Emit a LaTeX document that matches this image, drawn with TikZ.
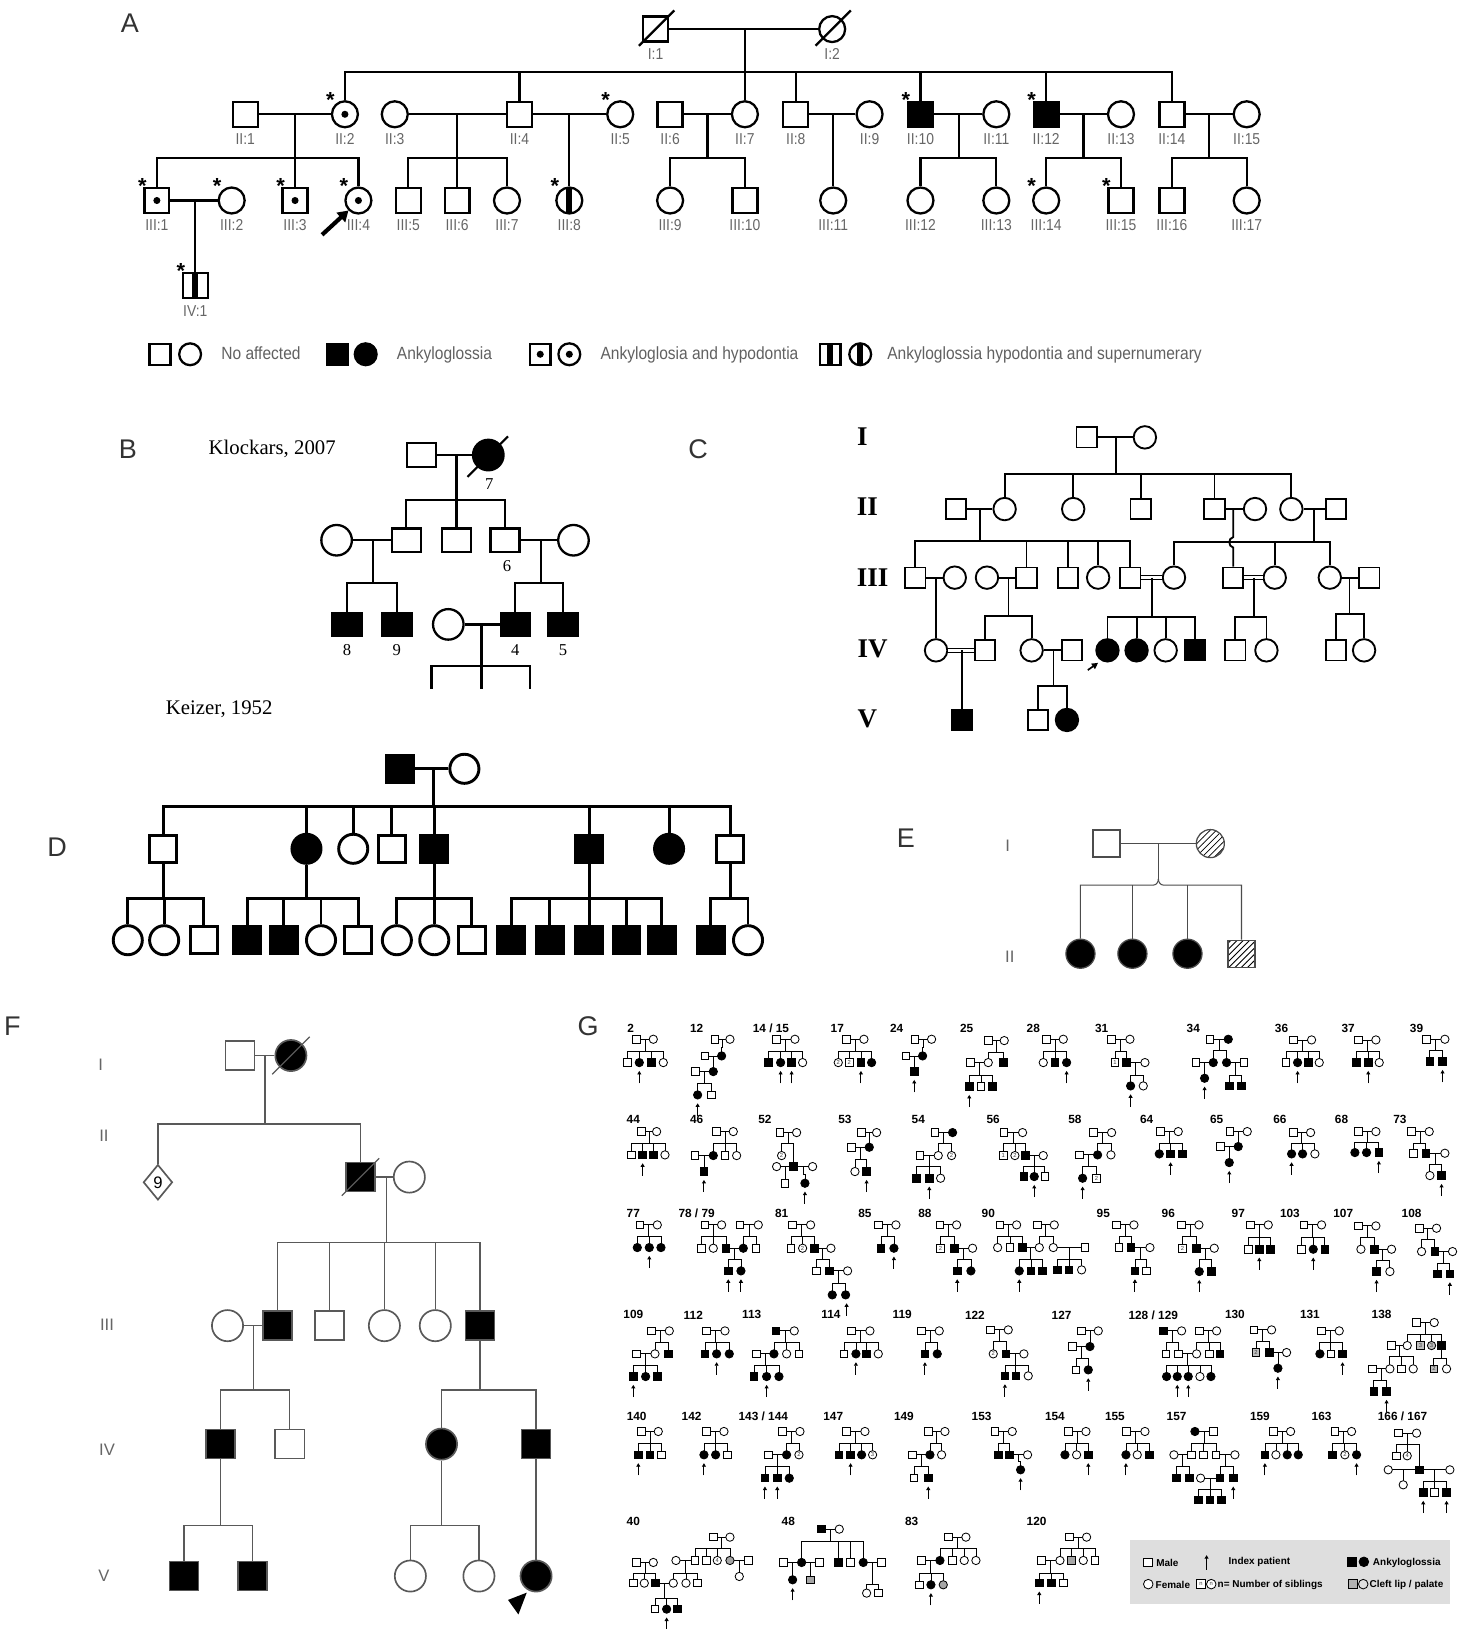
\documentclass[tikz,border=0pt]{standalone}
\usepackage{fontspec}
\setmainfont{Liberation Serif}
\setsansfont{Liberation Sans}
\newfontfamily\nsans[FakeStretch=0.88]{Liberation Sans}
\usetikzlibrary{calc,patterns,arrows.meta,shapes.geometric}
\newcommand\fsz[1]{\fontsize{#1}{#1}\selectfont}
\newcommand\kids[3]{%
  \draw (#1) -- (#1 |- 0,#2);
  \foreach \k in {#3}{\draw (#1 |- 0,#2) -- (\k |- 0,#2) -- (\k);}%
}
\newcommand\alab[2]{\node[alab] at ($(#1)+(0,24)$) {#2};}
\newcommand\astar[1]{\node[astar] at ($(#1)+(-14,-14)$) {*};}
% panel G helpers
\newcommand\gS[2]{\node[gsq] at (#1,#2) {};}
\newcommand\gSF[2]{\node[gsq,fill=black] at (#1,#2) {};}
\newcommand\gC[2]{\node[gci] at (#1,#2) {};}
\newcommand\gCF[2]{\node[gci,fill=black] at (#1,#2) {};}
\newcommand\gSG[2]{\node[gsq,fill=black!35] at (#1,#2) {};}
\newcommand\gCG[2]{\node[gci,fill=black!35] at (#1,#2) {};}
\newcommand\gSN[3]{\node[gsq,gnum] at (#1,#2) {#3};}
\newcommand\gCN[3]{\node[gci,gnum] at (#1,#2) {#3};}
\newcommand\gA[2]{\draw[garr] (#1,#2+62) -- (#1,#2+25);}
\newcommand\gT[3]{\node[gtit] at (#1,#2) {#3};}
\newcommand\gfam[5]{%
  \draw[gl] (#1,#3) -- (#2,#3);
  \pgfmathsetmacro\gmx{(#1+#2)/2}%
  \draw[gl] (\gmx,#3) -- (\gmx,#4);
  \foreach \cx/\cy in {#5}{\draw[gl] (\gmx,#4) -- (\cx,#4) -- (\cx,\cy);}%
}
\tikzset{
  asq/.style={draw,rectangle,minimum size=12pt,inner sep=0pt,fill=white,line width=1.1pt},
  aci/.style={draw,circle,minimum size=12.5pt,inner sep=0pt,fill=white,line width=1.1pt},
  aff/.style={fill=black},
  adot/.style={path picture={\fill[black] (path picture bounding box.center) circle (1.7pt);}},
  abar/.style={path picture={\fill[black] ($(path picture bounding box.center)+(-1.5pt,-8pt)$) rectangle ($(path picture bounding box.center)+(1.5pt,8pt)$);}},
  alab/.style={font=\nsans\fsz{7.6},text=black!60},
  astar/.style={font=\sffamily\bfseries\fsz{10.5}},
  aleg/.style={font=\nsans\fsz{8.5},text=black!62,anchor=base west},
  plet/.style={font=\sffamily\fsz{13},text=black!80},
  bsq/.style={draw,rectangle,minimum width=14pt,minimum height=11.3pt,inner sep=0pt,fill=white,line width=1.1pt},
  bci/.style={draw,circle,minimum size=14.7pt,inner sep=0pt,fill=white,line width=1.1pt},
  bnum/.style={font=\fsz{8}},
  csq/.style={draw,rectangle,minimum size=9.8pt,inner sep=0pt,fill=white,line width=0.9pt},
  cci/.style={draw,circle,minimum size=10.8pt,inner sep=0pt,fill=white,line width=0.9pt},
  crom/.style={font=\bfseries\fsz{13}},
  dsq/.style={draw,rectangle,minimum size=13pt,inner sep=0pt,fill=white,line width=1.4pt},
  dci/.style={draw,circle,minimum size=14pt,inner sep=0pt,fill=white,line width=1.4pt},
  esq/.style={draw,rectangle,minimum size=13pt,inner sep=0pt,fill=white,line width=0.6pt},
  eci/.style={draw,circle,minimum size=13.5pt,inner sep=0pt,fill=white,line width=0.6pt},
  ehat/.style={pattern=north east lines},
  grom/.style={font=\sffamily\fsz{8},text=black!60},
  fsq/.style={draw,rectangle,minimum size=14pt,inner sep=0pt,fill=white,line width=0.8pt},
  fci/.style={draw,circle,minimum size=15pt,inner sep=0pt,fill=white,line width=0.8pt},
  fl/.style={line width=0.6pt,draw=black!65},
  gsq/.style={draw,rectangle,minimum size=3.6pt,inner sep=0pt,fill=white,line width=0.4pt},
  gci/.style={draw,circle,minimum size=4pt,inner sep=0pt,fill=white,line width=0.4pt},
  gl/.style={line width=0.4pt},
  garr/.style={line width=0.5pt,-{Triangle[length=1.7pt,width=1.9pt]}},
  gnum/.style={font=\sffamily\fsz{2.8},text=black!75},
  gtit/.style={font=\sffamily\bfseries\fsz{5.7}},
  gleg/.style={font=\sffamily\bfseries\fsz{4.8},anchor=west,inner sep=0pt},
}
\begin{document}
\begin{tikzpicture}[x=0.5pt,y=-0.5pt]
\useasboundingbox (0,0) rectangle (1412,1568);
\fill[white] (0,0) rectangle (1412,1568);

% ================= PANEL A =================
\node[plet] (labA) at (125,22) {A};
\begin{scope}[line width=1.1pt]
\node[asq] (I1) at (631,28) {};
\node[aci] (I2) at (801,28) {};
\node[asq] (II1) at (236,110) {};
\node[aci,adot] (II2) at (332,110) {};
\node[aci] (II3) at (380,110) {};
\node[asq] (II4) at (500,110) {};
\node[aci] (II5) at (597,110) {};
\node[asq] (II6) at (645,110) {};
\node[aci] (II7) at (717,110) {};
\node[asq] (II8) at (766,110) {};
\node[aci] (II9) at (837,110) {};
\node[asq,aff] (II10) at (886,110) {};
\node[aci] (II11) at (959,110) {};
\node[asq,aff] (II12) at (1007,110) {};
\node[aci] (II13) at (1079,110) {};
\node[asq] (II14) at (1128,110) {};
\node[aci] (II15) at (1200,110) {};
\node[asq,adot] (III1) at (151,193) {};
\node[aci] (III2) at (223,193) {};
\node[asq,adot] (III3) at (284,193) {};
\node[aci,adot] (III4) at (345,193) {};
\node[asq] (III5) at (393,193) {};
\node[asq] (III6) at (440,193) {};
\node[aci] (III7) at (488,193) {};
\node[aci,abar] (III8) at (548,193) {};
\node[aci] (III9) at (645,193) {};
\node[asq] (III10) at (717,193) {};
\node[aci] (III11) at (802,193) {};
\node[aci] (III12) at (886,193) {};
\node[aci] (III13) at (959,193) {};
\node[aci] (III14) at (1007,193) {};
\node[asq] (III15) at (1079,193) {};
\node[asq] (III16) at (1128,193) {};
\node[aci] (III17) at (1200,193) {};
\node[asq,abar] (IV1) at (188,275) {};
% deceased slashes
\draw ($(I1)+(-16,16)$) -- ($(I1)+(18,-18)$);
\draw ($(I2)+(-16,16)$) -- ($(I2)+(18,-18)$);
% marriages
\draw (I1) -- (I2);
\draw (II1) -- (II2); \draw (II3) -- (II4); \draw (II4) -- (II5);
\draw (II6) -- (II7); \draw (II8) -- (II9); \draw (II10) -- (II11);
\draw (II12) -- (II13); \draw (II14) -- (II15); \draw (III1) -- (III2);
\coordinate (jI) at (717,28);
\coordinate (jA1) at (284,110);
\coordinate (jA2) at (440,110);
\coordinate (jA3) at (548,110);
\coordinate (jA4) at (681,110);
\coordinate (jA5) at (802,110);
\coordinate (jA6) at (923,110);
\coordinate (jA7) at (1043,110);
\coordinate (jA8) at (1164,110);
\coordinate (jA9) at (188,193);
\kids{jI}{69}{II2,II4,II7,II8,II10,II12,II14}
\kids{jA1}{152}{III1,III3,III4}
\kids{jA2}{152}{III5,III6,III7}
\kids{jA3}{152}{III8}
\kids{jA4}{152}{III9,III10}
\kids{jA5}{152}{III11}
\kids{jA6}{152}{III12,III13}
\kids{jA7}{152}{III14,III15}
\kids{jA8}{152}{III16,III17}
\kids{jA9}{240}{IV1}
\end{scope}
\alab{I1}{I:1}\alab{I2}{I:2}
\alab{II1}{II:1}\alab{II2}{II:2}\alab{II3}{II:3}\alab{II4}{II:4}\alab{II5}{II:5}
\alab{II6}{II:6}\alab{II7}{II:7}\alab{II8}{II:8}\alab{II9}{II:9}\alab{II10}{II:10}
\alab{II11}{II:11}\alab{II12}{II:12}\alab{II13}{II:13}\alab{II14}{II:14}\alab{II15}{II:15}
\alab{III1}{III:1}\alab{III2}{III:2}\alab{III3}{III:3}\alab{III4}{III:4}\alab{III5}{III:5}
\alab{III6}{III:6}\alab{III7}{III:7}\alab{III8}{III:8}\alab{III9}{III:9}\alab{III10}{III:10}
\alab{III11}{III:11}\alab{III12}{III:12}\alab{III13}{III:13}\alab{III14}{III:14}
\alab{III15}{III:15}\alab{III16}{III:16}\alab{III17}{III:17}\alab{IV1}{IV:1}
\astar{II2}\astar{II5}\astar{II10}\astar{II12}\astar{III1}\astar{III2}\astar{III3}
\astar{III4}\astar{III8}\astar{III14}\astar{III15}\astar{IV1}
\coordinate (arA1) at (310,226);
\draw[line width=2pt,-{Triangle[length=5pt,width=6pt]}] (arA1) -- (III4.south west);
% legend A
\node[asq,minimum size=10pt] (lg1) at (154,341) {};
\node[aci,minimum size=10.5pt] (lg2) at (183,341) {};
\node[aleg] (lt1) at (206,346) {No affected};
\node[asq,aff,minimum size=10pt] (lg3) at (325,341) {};
\node[aci,aff,minimum size=10.5pt] (lg4) at (352,341) {};
\node[aleg] (lt2) at (375,346) {Ankyloglossia};
\node[asq,adot,minimum size=10pt] (lg5) at (520,341) {};
\node[aci,adot,minimum size=10.5pt] (lg6) at (548,341) {};
\node[aleg] (lt3) at (571,346) {Ankyloglosia and hypodontia};
\node[asq,abar,minimum size=10pt] (lg7) at (799,341) {};
\node[aci,abar,minimum size=10.5pt] (lg8) at (828,341) {};
\node[aleg] (lt4) at (847,346) {Ankyloglossia hypodontia and supernumerary};

% ================= PANEL B =================
\node[plet] (labB) at (123,432) {B};
\node[font=\fsz{10}] (tB) at (262,432) {Klockars, 2007};
\begin{scope}[line width=1.1pt]
\node[bsq] (BI1) at (406,438) {};
\node[bci,aff] (BI2) at (470,438) {};
\node[bci] (BII1) at (324,520) {};
\node[bsq] (BII2) at (391,520) {};
\node[bsq] (BII3) at (439.5,520) {};
\node[bsq] (BII4) at (486,520) {};
\node[bci] (BII5) at (552,520) {};
\node[bsq,aff] (BIII1) at (334,601) {};
\node[bsq,aff] (BIII2) at (382,601) {};
\node[bci] (BIII5) at (431.5,601) {};
\node[bsq,aff] (BIII3) at (496,601) {};
\node[bsq,aff] (BIII4) at (542,601) {};
\draw (450,459) -- (489,420);
\draw (BI1) -- (BI2); \draw (BII1) -- (BII2); \draw (BII4) -- (BII5); \draw (BIII5) -- (BIII3);
\coordinate (bj1) at (439.5,438);
\coordinate (bj2) at (358.7,520);
\coordinate (bj3) at (520.4,520);
\coordinate (bj4) at (463.6,601);
\kids{bj1}{481}{BII2,BII3,BII4}
\kids{bj2}{561}{BIII1,BIII2}
\kids{bj3}{561}{BIII3,BIII4}
\coordinate (bk1) at (415.4,663);
\coordinate (bk2) at (463.6,663);
\coordinate (bk3) at (510,663);
\draw (bj4) -- (bk2);
\draw (bk1) -- (bk1 |- 0,641) -- (bk3 |- 0,641) -- (bk3);
\end{scope}
\node[bnum] (n7) at (471,466) {7};
\node[bnum] (n6) at (488,545) {6};
\node[bnum] (n8) at (334,626) {8};
\node[bnum] (n9) at (382,626) {9};
\node[bnum] (n4) at (496,626) {4};
\node[bnum] (n5) at (542,626) {5};
\node[font=\fsz{10}] (tK) at (211,683) {Keizer, 1952};

% ================= PANEL C =================
\node[plet] (labC) at (672,432) {C};
\node[crom] (rI) at (830,420) {I};
\node[crom] (rII) at (835,488) {II};
\node[crom] (rIII) at (840,556) {III};
\node[crom] (rIV) at (840,625) {IV};
\node[crom] (rV) at (835,692) {V};
\begin{scope}[line width=0.9pt]
\node[csq] (CI1) at (1046,421) {};
\node[cci] (CI2) at (1102,421) {};
\node[csq] (CII1) at (920,490) {};
\node[cci] (CII2) at (967,490) {};
\node[cci] (CII3) at (1033,490) {};
\node[csq] (CII4) at (1098,490) {};
\node[csq] (CII5) at (1169,490) {};
\node[cci] (CII6) at (1208,490) {};
\node[cci] (CII7) at (1243,490) {};
\node[csq] (CII8) at (1286,490) {};
\node[csq] (CIII1) at (881,556) {};
\node[cci] (CIII2) at (919,556) {};
\node[cci] (CIII3) at (950,556) {};
\node[csq] (CIII4) at (988,556) {};
\node[csq] (CIII5) at (1028,556) {};
\node[cci] (CIII6) at (1057,556) {};
\node[csq] (CIII7) at (1088,556) {};
\node[cci] (CIII8) at (1130,556) {};
\node[csq] (CIII9) at (1187,556) {};
\node[cci] (CIII10) at (1227,556) {};
\node[cci] (CIII11) at (1280,556) {};
\node[csq] (CIII12) at (1318,556) {};
\node[cci] (CIV1) at (901,626) {};
\node[csq] (CIV2) at (948,626) {};
\node[cci] (CIV3) at (993,626) {};
\node[csq] (CIV4) at (1032,626) {};
\node[cci,aff] (CIV5) at (1066,626) {};
\node[cci,aff] (CIV6) at (1094,626) {};
\node[cci] (CIV7) at (1122,626) {};
\node[csq,aff] (CIV8) at (1150,626) {};
\node[csq] (CIV9) at (1189,626) {};
\node[cci] (CIV10) at (1219,626) {};
\node[csq] (CIV11) at (1286,626) {};
\node[cci] (CIV12) at (1313,626) {};
\node[csq,aff] (CV1) at (926,693) {};
\node[csq] (CV2) at (999,693) {};
\node[cci,aff] (CV3) at (1027,693) {};
\draw (CI1) -- (CI2); \draw (CII1) -- (CII2); \draw (CII5) -- (CII6); \draw (CII7) -- (CII8);
\draw (CIII1) -- (CIII2); \draw (CIII3) -- (CIII4); \draw (CIII11) -- (CIII12); \draw (CIV3) -- (CIV4);
\draw[double,double distance=1.4pt,line width=0.55pt] (CIII7) -- (CIII8);
\draw[double,double distance=1.4pt,line width=0.55pt] (CIII9) -- (CIII10);
\draw[double,double distance=1.4pt,line width=0.55pt] (CIV1) -- (CIV2);
\coordinate (cj1) at (1074,421);
\coordinate (cj2) at (943,490);
\coordinate (cj3) at (1187,490);
\coordinate (cj4) at (1265,490);
\coordinate (cj5) at (901,556);
\coordinate (cj6) at (970.7,556);
\coordinate (cj7) at (1108.6,556);
\coordinate (cj8) at (1207,556);
\coordinate (cj9) at (1299,556);
\coordinate (cj10) at (926,626);
\coordinate (cj11) at (1014,626);
\kids{cj1}{456}{CII2,CII3,CII4,CII5,CII7}
\kids{cj2}{521}{CIII1,CIII4,CIII5,CIII6,CIII7}
\kids{cj4}{522}{CIII8,CIII10,CIII11}
\draw (cj3) -- (1187,517) .. controls (1182,518) and (1182,526) .. (1187,527) -- (CIII9);
\kids{cj5}{590}{CIV1}
\kids{cj6}{593}{CIV2,CIV3}
\kids{cj7}{594}{CIV5,CIV6,CIV7,CIV8}
\kids{cj8}{594}{CIV9,CIV10}
\kids{cj9}{591}{CIV11,CIV12}
\kids{cj10}{660}{CV1}
\kids{cj11}{660}{CV2,CV3}
\end{scope}
\coordinate (carr) at (1047,645);
\draw[line width=0.8pt,-{Triangle[length=3pt,width=3pt]}] (carr) -- (1057,638);

% ================= PANEL D =================
\node[plet] (labD) at (55,815) {D};
\begin{scope}[line width=1.4pt]
\node[dsq,aff] (DI1) at (385,740) {};
\node[dci] (DI2) at (447,740) {};
\node[dsq] (DII1) at (157,817) {};
\node[dci,aff] (DII2) at (295,817) {};
\node[dci] (DII3) at (340,817) {};
\node[dsq] (DII4) at (377,817) {};
\node[dsq,aff] (DII5) at (418,817) {};
\node[dsq,aff] (DII6) at (567,817) {};
\node[dci,aff] (DII7) at (644,817) {};
\node[dsq] (DII8) at (703,817) {};
\node[dci] (DIII1) at (123,905) {};
\node[dci] (DIII2) at (158,905) {};
\node[dsq] (DIII3) at (196,905) {};
\node[dsq,aff] (DIII4) at (238,905) {};
\node[dsq,aff] (DIII5) at (273,905) {};
\node[dci] (DIII6) at (309,905) {};
\node[dsq] (DIII7) at (345,905) {};
\node[dci] (DIII8) at (382,905) {};
\node[dci] (DIII9) at (418,905) {};
\node[dsq] (DIII10) at (454,905) {};
\node[dsq,aff] (DIII11) at (492,905) {};
\node[dsq,aff] (DIII12) at (529,905) {};
\node[dsq,aff] (DIII13) at (567,905) {};
\node[dsq,aff] (DIII14) at (603,905) {};
\node[dsq,aff] (DIII15) at (637,905) {};
\node[dsq,aff] (DIII16) at (684,905) {};
\node[dci] (DIII17) at (720,905) {};
\draw (DI1) -- (DI2);
\coordinate (dj1) at (417,740);
\kids{dj1}{776}{DII1,DII2,DII3,DII4,DII5,DII6,DII7,DII8}
\kids{DII1}{865}{DIII1,DIII2,DIII3}
\kids{DII2}{865}{DIII4,DIII5,DIII6,DIII7}
\kids{DII5}{865}{DIII8,DIII9,DIII10}
\kids{DII6}{865}{DIII11,DIII12,DIII13,DIII14,DIII15}
\kids{DII8}{865}{DIII16,DIII17}
\end{scope}

% ================= PANEL E =================
\node[plet] (labE) at (872,807) {E};
\node[grom] (eI) at (970,814) {I};
\node[grom] (eII) at (972,921) {II};
\begin{scope}[line width=0.5pt,draw=black!70]
\node[esq] (EI1) at (1065,812) {};
\node[eci,ehat] (EI2) at (1165,812) {};
\node[eci,aff,minimum size=14pt] (EII1) at (1040,918) {};
\node[eci,aff,minimum size=14pt] (EII2) at (1090,918) {};
\node[eci,aff,minimum size=14pt] (EII3) at (1143,918) {};
\node[esq,ehat] (EII4) at (1195,918) {};
\draw (EI1) -- (EI2);
\coordinate (ej1) at (1115,812);
\coordinate (ej2) at (1115,846);
\draw (ej1) -- (ej2);
\draw (ej2) to[out=-90,in=0] (1110,852) -- (EII1 |- 0,852) -- (EII1);
\draw (ej2) to[out=-90,in=180] (1120,852) -- (EII4 |- 0,852) -- (EII4);
\draw (EII2 |- 0,852) -- (EII2);
\draw (EII3 |- 0,852) -- (EII3);
\end{scope}

% ================= PANEL F =================
\node[plet] (labF) at (12,988) {F};
\node[grom] (fI) at (97,1025) {I};
\node[grom] (fII) at (100,1093) {II};
\node[grom] (fIII) at (103,1275) {III};
\node[grom] (fIV) at (103,1395) {IV};
\node[grom] (fV) at (100,1517) {V};
\begin{scope}[fl]
\node[fsq] (FI1) at (231,1016) {};
\node[fci,aff] (FI2) at (280,1016) {};
\node[draw,diamond,minimum width=14pt,minimum height=17pt,inner sep=0pt,line width=0.8pt,font=\sffamily\fsz{8}] (FII1) at (152,1138) {9};
\node[fsq,aff] (FII2) at (347,1133) {};
\node[fci] (FII3) at (394,1133) {};
\node[fci] (FIII1) at (219,1276) {};
\node[fsq,aff] (FIII2) at (267,1276) {};
\node[fsq] (FIII3) at (317,1276) {};
\node[fci] (FIII4) at (370,1276) {};
\node[fci] (FIII5) at (419,1276) {};
\node[fsq,aff] (FIII6) at (462,1276) {};
\node[fsq,aff] (FIV1) at (212,1390) {};
\node[fsq] (FIV2) at (279,1390) {};
\node[fci,aff] (FIV3) at (425,1390) {};
\node[fsq,aff] (FIV4) at (516,1390) {};
\node[fsq,aff] (FV1) at (177,1517) {};
\node[fsq,aff] (FV2) at (243,1517) {};
\node[fci] (FV3) at (395,1517) {};
\node[fci] (FV4) at (461,1517) {};
\node[fci,aff] (FV5) at (516,1517) {};
\draw (262,1034) -- (298,998);
\draw (329,1151) -- (365,1115);
\draw (FI1) -- (FI2); \draw (FII2) -- (FII3); \draw (FIII1) -- (FIII2);
\coordinate (fj1) at (255,1016);
\coordinate (fj2) at (372,1133);
\coordinate (fj3) at (244,1276);
\kids{fj1}{1082}{FII1,FII2}
\kids{fj2}{1196}{FIII2,FIII3,FIII4,FIII5,FIII6}
\kids{fj3}{1338}{FIV1,FIV2}
\kids{FIII6}{1338}{FIV3,FIV4}
\kids{FIV1}{1468}{FV1,FV2}
\kids{FIV3}{1468}{FV3,FV4}
\draw (FIV4) -- (FV5);
\end{scope}
\fill (507,1533) -- (489,1540) -- (499,1554) -- cycle;

% ================= PANEL G =================
\node[plet] (labG) at (566,988) {G};
% ---- block 1 (zoom4 coordinates)
\begin{scope}[shift={(577.5,972.1)},x=0.1604pt,y=-0.1604pt]
% 2
\gT{92}{55}{2}
\gfam{110}{160}{88}{123}{82/158,118/158,155/158,190/158}
\gS{110}{88}\gC{160}{88}\gS{82}{158}\gCF{118}{158}\gSF{155}{158}\gC{190}{158}\gA{118}{158}
% 12
\gT{290}{55}{12}
\gfam{345}{390}{88}{112}{365/138}
\gfam{315}{365}{138}{160}{340/185}
\gfam{287}{340}{185}{220}{293/255,335/255}
\gS{345}{88}\gC{390}{88}\gS{315}{138}\gCF{365}{138}\gS{287}{185}\gCF{340}{185}\gCF{293}{255}\gS{335}{255}\gA{293}{255}
% 14/15
\gT{513}{55}{14 / 15}
\gfam{530}{585}{88}{123}{505/158,542/158,575/158,608/158}
\gS{530}{88}\gC{585}{88}\gSF{505}{158}\gCF{542}{158}\gSF{575}{158}\gC{608}{158}\gA{542}{158}\gA{575}{158}
% 17
\gT{712}{55}{17}
\gfam{740}{792}{88}{123}{715/158,748/158,783/158,815/158}
\gS{740}{88}\gC{792}{88}\gCN{715}{158}{2}\gSN{748}{158}{2}\gSF{783}{158}\gCF{815}{158}\gA{783}{158}
% 24
\gT{890}{55}{24}
\gfam{945}{995}{88}{112}{968/138}
\gfam{918}{968}{138}{160}{943/185}
\gS{945}{88}\gC{995}{88}\gS{918}{138}\gCF{968}{138}\gSF{943}{185}\gA{943}{185}
% 25
\gT{1100}{55}{25}
\gfam{1165}{1213}{92}{127}{1165/158,1210/158}
\gfam{1112}{1165}{158}{195}{1108/230,1143/230,1178/230}
\gS{1165}{92}\gC{1213}{92}\gS{1112}{158}\gC{1165}{158}\gSF{1210}{158}\gSF{1108}{230}\gS{1143}{230}\gSF{1178}{230}\gA{1108}{230}
% 44
\gT{100}{330}{44}
\gfam{125}{170}{365}{400}{95/435,128/435,160/435,195/435}
\gS{125}{365}\gC{170}{365}\gS{95}{435}\gSF{128}{435}\gSF{160}{435}\gC{195}{435}\gA{128}{435}
% 46
\gT{290}{330}{46}
\gfam{350}{400}{365}{400}{340/437,375/437,410/437}
\gfam{285}{340}{437}{460}{312/485}
\gS{350}{365}\gC{400}{365}\gS{285}{437}\gCF{340}{437}\gS{375}{437}\gC{410}{437}\gSF{312}{485}\gA{312}{485}
% 52
\gT{495}{330}{52}
\gfam{540}{590}{368}{400}{545/437,580/470}
\gfam{530}{580}{470}{495}{555/520}
\gfam{580}{638}{470}{495}{615/520}
\gS{540}{368}\gC{590}{368}\gCN{545}{437}{2}\gC{530}{470}\gSF{580}{470}\gC{638}{470}\gS{555}{520}\gCF{615}{520}\gA{615}{520}
% 53
\gT{735}{330}{53}
\gfam{785}{830}{368}{390}{808/412}
\gfam{755}{808}{412}{450}{765/485,800/485}
\gS{785}{368}\gC{830}{368}\gS{755}{412}\gCF{808}{412}\gC{765}{485}\gSF{800}{485}\gA{800}{485}
% 54
\gT{955}{330}{54}
\gfam{1005}{1058}{368}{400}{1015/437,1055/437}
\gfam{960}{1015}{437}{470}{950/505,988/505,1022/505}
\gS{1005}{368}\gCF{1058}{368}\gS{960}{437}\gC{1015}{437}\gCN{1055}{437}{2}\gSF{950}{505}\gSF{988}{505}\gC{1022}{505}\gA{988}{505}
% 56
\gT{1180}{330}{56}
\gfam{1212}{1268}{368}{400}{1210/437,1245/437,1277/437}
\gfam{1277}{1330}{437}{470}{1272/500,1303/500,1335/500}
\gS{1212}{368}\gC{1268}{368}\gSN{1210}{437}{1}\gCN{1245}{437}{2}\gSF{1277}{437}\gC{1330}{437}\gSF{1272}{500}\gCF{1303}{500}\gS{1335}{500}\gA{1303}{500}
\end{scope}
% ---- block 2 (zoom5 coordinates)
\begin{scope}[shift={(962.5,972.1)},x=0.1604pt,y=-0.1604pt]
% 28
\gT{100}{55}{28}
\gfam{140}{190}{88}{123}{130/158,165/158,200/158}
\gS{140}{88}\gC{190}{88}\gC{130}{158}\gSF{165}{158}\gCF{200}{158}\gA{200}{158}
% 31
\gT{305}{55}{31}
\gfam{335}{390}{88}{125}{345/158,380/158}
\gfam{380}{435}{158}{195}{392/228,430/228}
\gS{335}{88}\gC{390}{88}\gSN{345}{158}{1}\gSF{380}{158}\gC{435}{158}\gCF{392}{228}\gC{430}{228}\gA{392}{228}
% 34
\gT{580}{55}{34}
\gfam{630}{685}{88}{122}{640/158,680/158}
\gfam{588}{640}{158}{180}{614/205}
\gfam{680}{732}{158}{195}{688/228,725/228}
\gS{630}{88}\gCF{685}{88}\gS{588}{158}\gCF{640}{158}\gCF{680}{158}\gS{732}{158}\gCF{614}{205}\gSF{688}{228}\gSF{725}{228}\gA{614}{205}
% 36
\gT{845}{55}{36}
\gfam{880}{935}{90}{123}{858/158,893/158,925/158,958/158}
\gS{880}{90}\gC{935}{90}\gS{858}{158}\gCF{893}{158}\gSF{925}{158}\gC{958}{158}\gA{893}{158}
% 37
\gT{1045}{55}{37}
\gfam{1075}{1128}{90}{123}{1070/158,1105/158,1138/158}
\gS{1075}{90}\gC{1128}{90}\gSF{1070}{158}\gSF{1105}{158}\gC{1138}{158}\gA{1105}{158}
% 39
\gT{1250}{55}{39}
\gfam{1280}{1335}{88}{120}{1290/155,1328/155}
\gS{1280}{88}\gC{1335}{88}\gSF{1290}{155}\gSF{1328}{155}\gA{1328}{155}
% 58
\gT{225}{330}{58}
\gfam{280}{335}{368}{400}{293/435,333/435}
\gfam{238}{293}{435}{470}{248/505,290/505}
\gS{280}{368}\gC{335}{368}\gS{238}{435}\gCF{293}{435}\gC{333}{435}\gCF{248}{505}\gSN{290}{505}{2}\gA{248}{505}
% 64
\gT{440}{330}{64}
\gfam{482}{535}{365}{400}{478/432,512/432,548/432}
\gS{482}{365}\gC{535}{365}\gCF{478}{432}\gSF{512}{432}\gSF{548}{432}\gA{512}{432}
% 65
\gT{650}{330}{65}
\gfam{690}{742}{365}{388}{715/410}
\gfam{662}{715}{410}{435}{688/458}
\gS{690}{365}\gC{742}{365}\gS{662}{410}\gCF{715}{410}\gCF{688}{458}\gA{688}{458}
% 66
\gT{840}{330}{66}
\gfam{880}{932}{368}{400}{875/432,908/432,945/432}
\gS{880}{368}\gC{932}{368}\gCF{875}{432}\gCF{908}{432}\gC{945}{432}\gA{875}{432}
% 68
\gT{1025}{330}{68}
\gfam{1075}{1128}{365}{398}{1065/428,1100/428,1137/428}
\gS{1075}{365}\gC{1128}{365}\gCF{1065}{428}\gCF{1100}{428}\gSF{1137}{428}\gA{1137}{428}
% 73
\gT{1200}{330}{73}
\gfam{1235}{1288}{365}{400}{1240/430,1278/430}
\gfam{1278}{1335}{430}{465}{1290/497,1325/497}
\gS{1235}{365}\gC{1288}{365}\gS{1240}{430}\gSF{1278}{430}\gC{1335}{430}\gC{1290}{497}\gSF{1325}{497}\gA{1325}{497}
\end{scope}
% ---- block 3 (zoom6 coordinates)
\begin{scope}[shift={(577.5,1154.96)},x=0.1604pt,y=-0.1604pt]
% 77
\gT{100}{40}{77}
\gfam{120}{172}{75}{110}{112/143,148/143,183/143}
\gS{120}{75}\gC{172}{75}\gCF{112}{143}\gCF{148}{143}\gCF{183}{143}\gA{148}{143}
% 78/79
\gT{290}{40}{78 / 79}
\gfam{315}{365}{75}{110}{305/145,340/145,378/145}
\gfam{420}{475}{75}{110}{430/145,468/145}
\gfam{378}{430}{145}{180}{385/213,423/213}
\gS{315}{75}\gC{365}{75}\gS{420}{75}\gC{475}{75}\gS{305}{145}\gC{340}{145}\gSF{378}{145}\gCF{430}{145}\gS{468}{145}\gSF{385}{213}\gCF{423}{213}\gA{385}{213}\gA{423}{213}
% 81
\gT{545}{40}{81}
\gfam{578}{632}{75}{110}{573/145,608/145,643/145}
\gfam{643}{693}{145}{180}{650/213,688/213}
\gfam{688}{743}{213}{250}{697/285,737/285}
\gS{578}{75}\gC{632}{75}\gS{573}{145}\gCN{608}{145}{2}\gSF{643}{145}\gC{693}{145}\gS{650}{213}\gSF{688}{213}\gC{743}{213}\gCF{697}{285}\gCF{737}{285}\gA{740}{285}
% 85
\gT{795}{40}{85}
\gfam{835}{888}{75}{110}{843/145,882/145}
\gS{835}{75}\gC{888}{75}\gSF{843}{145}\gCF{882}{145}\gA{882}{145}
% 88
\gT{975}{40}{88}
\gfam{1020}{1070}{75}{110}{1022/145,1063/145}
\gfam{1063}{1118}{145}{180}{1072/213,1113/213}
\gS{1020}{75}\gC{1070}{75}\gSN{1022}{145}{2}\gSF{1063}{145}\gC{1118}{145}\gSF{1072}{213}\gCF{1113}{213}\gA{1072}{213}
\gT{1165}{40}{90}
% 109
\gT{100}{345}{109}
\gfam{155}{208}{393}{428}{165/462,205/462}
\gfam{110}{165}{462}{497}{100/530,137/530,173/530}
\gS{155}{393}\gC{208}{393}\gS{110}{462}\gC{165}{462}\gSF{205}{462}\gSF{100}{530}\gCF{137}{530}\gSF{173}{530}\gA{100}{530}
% 112
\gT{280}{345}{112}
\gfam{320}{375}{393}{428}{315/462,350/462,388/462}
\gS{320}{393}\gC{375}{393}\gSF{315}{462}\gCF{350}{462}\gCF{388}{462}\gA{350}{462}
% 113
\gT{455}{345}{113}
\gfam{528}{583}{393}{428}{522/462,560/462,597/462}
\gfam{470}{522}{462}{497}{462/530,500/530,537/530}
\gSF{528}{393}\gC{583}{393}\gS{470}{462}\gCF{522}{462}\gC{560}{462}\gS{597}{462}\gSF{462}{530}\gCF{500}{530}\gCF{537}{530}\gA{500}{530}
% 114
\gT{693}{345}{114}
\gfam{755}{810}{393}{428}{732/462,768/462,800/462,835/462}
\gS{755}{393}\gC{810}{393}\gS{732}{462}\gCF{768}{462}\gSF{800}{462}\gC{835}{462}\gA{768}{462}
% 119
\gT{907}{345}{119}
\gfam{965}{1018}{393}{428}{975/462,1012/462}
\gS{965}{393}\gC{1018}{393}\gSF{975}{462}\gCF{1012}{462}\gA{975}{462}
% 122
\gT{1125}{345}{122}
\gfam{1172}{1225}{390}{425}{1180/462,1218/462}
\gfam{1218}{1272}{462}{497}{1215/528,1248/528,1285/528}
\gS{1172}{390}\gC{1225}{390}\gCN{1180}{462}{2}\gSF{1218}{462}\gC{1272}{462}\gSF{1215}{528}\gSF{1248}{528}\gC{1285}{528}\gA{1215}{528}
\end{scope}
% ---- block 4 (zoom7 coordinates)
\begin{scope}[shift={(962.5,1154.96)},x=0.1604pt,y=-0.1604pt]
% 90
\gfam{0}{50}{75}{110}{-7/143,30/143,67/143}
\gfam{112}{163}{75}{110}{118/143,160/143}
\gfam{67}{118}{143}{180}{58/213,93/213,128/213}
\gfam{160}{255}{143}{180}{172/210,207/210,245/210}
\gS{0}{75}\gC{50}{75}\gS{112}{75}\gC{163}{75}\gC{-7}{143}\gS{30}{143}\gSF{67}{143}\gC{118}{143}\gC{160}{143}\gS{255}{143}\gCF{58}{213}\gSF{93}{213}\gSF{128}{213}\gSF{172}{210}\gSF{207}{210}\gC{245}{210}\gA{58}{213}
% 95
\gT{310}{40}{95}
\gfam{350}{402}{75}{110}{357/143,393/143}
\gfam{393}{450}{143}{180}{405/213,440/213}
\gS{350}{75}\gC{402}{75}\gS{357}{143}\gSF{393}{143}\gC{450}{143}\gSF{405}{213}\gS{440}{213}\gA{405}{213}
% 96
\gT{505}{40}{96}
\gfam{545}{597}{75}{110}{548/145,590/145}
\gfam{590}{643}{145}{180}{598/215,635/215}
\gS{545}{75}\gC{597}{75}\gSN{548}{145}{2}\gSF{590}{145}\gC{643}{145}\gCF{598}{215}\gSF{635}{215}\gA{598}{215}
% 97
\gT{715}{40}{97}
\gfam{752}{805}{75}{112}{745/148,778/148,812/148}
\gS{752}{75}\gC{805}{75}\gS{745}{148}\gSF{778}{148}\gSF{812}{148}\gA{778}{148}
% 103
\gT{870}{40}{103}
\gfam{912}{965}{75}{112}{905/148,940/148,975/148}
\gS{912}{75}\gC{965}{75}\gS{905}{148}\gCF{940}{148}\gSF{975}{148}\gA{940}{148}
% 107
\gT{1030}{40}{107}
\gfam{1075}{1128}{78}{113}{1083/148,1123/148}
\gfam{1123}{1175}{148}{183}{1130/215,1170/215}
\gS{1075}{78}\gC{1128}{78}\gC{1083}{148}\gSF{1123}{148}\gC{1175}{148}\gSF{1130}{215}\gC{1170}{215}\gA{1130}{215}
% 108
\gT{1235}{40}{108}
\gfam{1258}{1310}{85}{120}{1265/155,1305/155}
\gfam{1305}{1358}{155}{190}{1312/222,1350/222}
\gS{1258}{85}\gC{1310}{85}\gC{1265}{155}\gSF{1305}{155}\gC{1358}{155}\gSF{1312}{222}\gSF{1350}{222}\gA{1350}{222}
% 127
\gT{185}{345}{127}
\gfam{245}{295}{393}{415}{270/440}
\gfam{218}{270}{440}{475}{228/510,265/510}
\gS{245}{393}\gC{295}{393}\gS{218}{440}\gCF{270}{440}\gS{228}{510}\gCF{265}{510}\gA{265}{510}
% 128/129
\gT{460}{345}{128 / 129}
\gfam{490}{545}{393}{428}{498/462,535/462}
\gfam{598}{650}{393}{428}{590/462,628/462,660/462}
\gfam{535}{590}{462}{497}{500/530,532/530,565/530,600/530,633/530}
\gSF{490}{393}\gC{545}{393}\gS{598}{393}\gC{650}{393}\gS{498}{462}\gS{535}{462}\gC{590}{462}\gS{628}{462}\gSF{660}{462}\gCF{500}{530}\gCF{532}{530}\gCF{565}{530}\gC{600}{530}\gCF{633}{530}\gA{532}{530}\gA{565}{530}
% 130
\gT{705}{345}{130}
\gfam{762}{815}{390}{425}{768/458,808/458}
\gfam{808}{860}{458}{480}{834/505}
\gS{762}{390}\gC{815}{390}\node[gsq,gnum,fill=black!25] at (768,458) {2};\gSF{808}{458}\gC{860}{458}\gCF{834}{505}\gA{834}{505}
% 131
\gT{930}{345}{131}
\gfam{965}{1018}{393}{428}{960/462,993/462,1028/462}
\gS{965}{393}\gC{1018}{393}\gCF{960}{462}\gS{993}{462}\gSF{1028}{462}\gA{1028}{462}
% 138
\gT{1145}{345}{138}
\gfam{1250}{1303}{368}{403}{1222/437,1262/437,1295/437,1325/437}
\draw[gl] (1325,437) -- (1325,475) -- (1302,475) -- (1302,507);
\draw[gl] (1325,475) -- (1340,475) -- (1340,507);
\gfam{1175}{1222}{437}{470}{1170/507,1205/507,1240/507}
\gfam{1118}{1170}{507}{543}{1122/575,1160/575}
\gS{1250}{368}\gC{1303}{368}\gS{1175}{437}\gC{1222}{437}\node[gsq,gnum,fill=black!25] at (1262,437) {3};\node[gci,gnum,fill=black!25] at (1295,437) {3};\gSF{1325}{437}
\node[gsq,gnum,fill=black!25] at (1302,507) {2};\gC{1340}{507}\gC{1170}{507}\gS{1205}{507}\gC{1240}{507}\gS{1118}{507}\gSF{1122}{575}\gSF{1160}{575}\gA{1160}{575}
\end{scope}
% ---- block 5 (zoom8 coordinates)
\begin{scope}[shift={(577.5,1347.4)},x=0.1604pt,y=-0.1604pt]
% 140
\gT{110}{50}{140}
\gfam{125}{175}{95}{130}{115/165,150/165,185/165}
\gS{125}{95}\gC{175}{95}\gSF{115}{165}\gSF{150}{165}\gS{185}{165}\gA{115}{165}
% 142
\gT{275}{50}{142}
\gfam{320}{372}{95}{130}{312/165,347/165,382/165}
\gS{320}{95}\gC{372}{95}\gCF{312}{165}\gCF{347}{165}\gS{382}{165}\gA{312}{165}
% 143/144
\gT{490}{50}{143 / 144}
\gfam{548}{600}{95}{130}{560/165,597/165}
\gfam{505}{560}{165}{200}{495/235,532/235,568/235}
\gS{548}{95}\gC{600}{95}\gS{505}{165}\gCF{560}{165}\gCN{597}{165}{2}\gSF{495}{235}\gSF{532}{235}\gCF{568}{235}\gA{495}{235}\gA{532}{235}
% 147
\gT{700}{50}{147}
\gfam{740}{795}{95}{130}{717/165,752/165,785/165,818/165}
\gS{740}{95}\gC{795}{95}\gSF{717}{165}\gSF{752}{165}\gCF{785}{165}\gCN{818}{165}{3}\gA{752}{165}
% 149
\gT{912}{50}{149}
\gfam{985}{1035}{95}{130}{990/165,1025/165}
\gfam{937}{990}{165}{200}{942/235,985/235}
\gS{985}{95}\gC{1035}{95}\gS{937}{165}\gCF{990}{165}\gC{1025}{165}\gS{942}{235}\gSF{985}{235}\gA{985}{235}
% 153
\gT{1145}{50}{153}
\gfam{1185}{1237}{95}{130}{1195/165,1228/165}
\gfam{1228}{1283}{165}{185}{1262/210}
\gS{1185}{95}\gC{1237}{95}\gSF{1195}{165}\gSF{1228}{165}\gC{1283}{165}\gCF{1262}{210}\gA{1262}{210}
% 40
\gT{100}{365}{40}
\gfam{340}{390}{412}{447}{285/482,320/482,352/482,390/482}
\gfam{390}{445}{482}{505}{418/530}
\gfam{110}{160}{488}{520}{100/550,133/550,167/550}
\gfam{228}{285}{482}{520}{220/550,258/550,293/550}
\gfam{167}{220}{550}{595}{165/628,200/628,233/628}
\gS{340}{412}\gC{390}{412}\gC{228}{482}\gS{285}{482}\gS{320}{482}\gCN{352}{482}{4}\gCG{390}{482}\gS{445}{482}\gC{418}{530}
\gS{110}{488}\gC{160}{488}\gS{100}{550}\gC{133}{550}\gSF{167}{550}\gC{220}{550}\gC{258}{550}\gS{293}{550}\gS{165}{628}\gCF{200}{628}\gSF{233}{628}\gA{200}{628}
% 48
\gT{565}{365}{48}
\gfam{665}{718}{388}{425}{605/488,715/488,752/488,790/488}
\gfam{550}{605}{488}{510}{578/540}
\gfam{605}{658}{488}{510}{632/540}
\gfam{790}{845}{488}{555}{800/580,835/580}
\gSF{665}{388}\gC{718}{388}\gS{550}{488}\gCF{605}{488}\gS{658}{488}\gSF{715}{488}\gS{752}{488}\gCF{790}{488}\gS{845}{488}\gCF{578}{540}\gSG{632}{540}\gC{800}{580}\gS{835}{580}\gA{578}{540}
% 83
\gT{935}{365}{83}
\gfam{1045}{1098}{412}{447}{1020/482,1058/482,1093/482,1128/482}
\gfam{965}{1020}{482}{520}{958/555,993/555,1030/555}
\gS{1045}{412}\gC{1098}{412}\gS{965}{482}\gCF{1020}{482}\gS{1058}{482}\gC{1093}{482}\gC{1128}{482}\gS{958}{555}\gCF{993}{555}\gCG{1030}{555}\gA{993}{555}
\end{scope}
% ---- block 6 (zoom9 coordinates)
\begin{scope}[shift={(962.5,1347.4)},x=0.1604pt,y=-0.1604pt]
% 154
\gT{165}{50}{154}
\gfam{205}{258}{95}{130}{195/165,230/165,265/165}
\gS{205}{95}\gC{258}{95}\gCF{195}{165}\gC{230}{165}\gSF{265}{165}\gA{265}{165}
% 155
\gT{345}{50}{155}
\gfam{380}{435}{95}{130}{378/165,412/165,448/165}
\gS{380}{95}\gC{435}{95}\gCF{378}{165}\gC{412}{165}\gSF{448}{165}\gA{378}{165}
% 157
\gT{530}{50}{157}
\gfam{585}{640}{95}{130}{575/165,610/165,648/165}
\gfam{522}{575}{165}{200}{530/235,568/235}
\gfam{648}{705}{165}{200}{660/235,700/235}
\gfam{602}{660}{235}{270}{595/300,630/300,665/300}
\gCF{585}{95}\gS{640}{95}\gC{522}{165}\gS{575}{165}\gS{610}{165}\gS{648}{165}\gC{705}{165}\gSF{530}{235}\gSF{568}{235}\gC{602}{235}\gSF{660}{235}\gSF{700}{235}\gSF{595}{300}\gSF{630}{300}\gSF{665}{300}\gA{700}{235}
% 159
\gT{780}{50}{159}
\gfam{820}{872}{95}{130}{795/165,828/165,862/165,895/165}
\gS{820}{95}\gC{872}{95}\gSF{795}{165}\gC{828}{165}\gCF{862}{165}\gCF{895}{165}\gA{795}{165}
% 163
\gT{965}{50}{163}
\gfam{1005}{1055}{95}{130}{998/165,1035/165,1070/165}
\gS{1005}{95}\gC{1055}{95}\gSF{998}{165}\gCN{1035}{165}{2}\gCF{1070}{165}\gA{1070}{165}
% 166/167
\gT{1208}{50}{166 / 167}
\gfam{1195}{1250}{100}{135}{1190/168,1222/168,1258/210}
\gfam{1165}{1258}{210}{230}{1210/255}
\gfam{1258}{1350}{210}{245}{1270/278,1303/278,1340/278}
\gS{1195}{100}\gC{1250}{100}\gS{1190}{168}\gCN{1222}{168}{4}\gSF{1258}{210}\gC{1165}{210}\gC{1350}{210}\gC{1210}{255}\gSF{1270}{278}\gS{1303}{278}\gSF{1340}{278}\gA{1270}{278}\gA{1340}{278}
% 120
\gT{110}{365}{120}
\gfam{208}{260}{412}{447}{180/482,215/482,250/482,285/482}
\gfam{125}{180}{482}{520}{118/550,155/550,190/550}
\gS{208}{412}\gC{260}{412}\gS{125}{482}\gC{180}{482}\gSG{215}{482}\gC{250}{482}\gS{285}{482}\gSF{118}{550}\gSF{155}{550}\gS{190}{550}\gA{118}{550}
% legend G
\fill[black!13] (390,420) rectangle (1350,612);
\node[gsq,minimum size=4.2pt] (gl1) at (445,488) {};
\node[gleg] (glt1) at (468,490) {Male};
\coordinate (gla) at (620,510);
\draw[garr] (gla) -- (620,466);
\node[gleg] (glt2) at (685,486) {Index patient};
\node[gsq,fill=black,minimum size=4.2pt] (gl2) at (1057,486) {};
\node[gci,fill=black,minimum size=4.6pt] (gl3) at (1092,486) {};
\node[gleg] (glt3) at (1118,488) {Ankyloglossia};
\node[gci,minimum size=4.6pt] (gl4) at (445,553) {};
\node[gleg] (glt4) at (466,555) {Female};
\node[gsq,gnum,minimum size=4.2pt] (gl5) at (603,553) {n};
\node[gci,gnum,minimum size=4.6pt] (gl6) at (634,553) {n};
\node[gleg] (glt5) at (652,555) {n= Number of siblings};
\node[gsq,fill=black!30,minimum size=4.2pt] (gl7) at (1060,553) {};
\node[gci,fill=black!12,minimum size=4.6pt] (gl8) at (1090,553) {};
\node[gleg] (glt6) at (1108,555) {Cleft lip / palate};
\end{scope}
\end{tikzpicture}
\end{document}
